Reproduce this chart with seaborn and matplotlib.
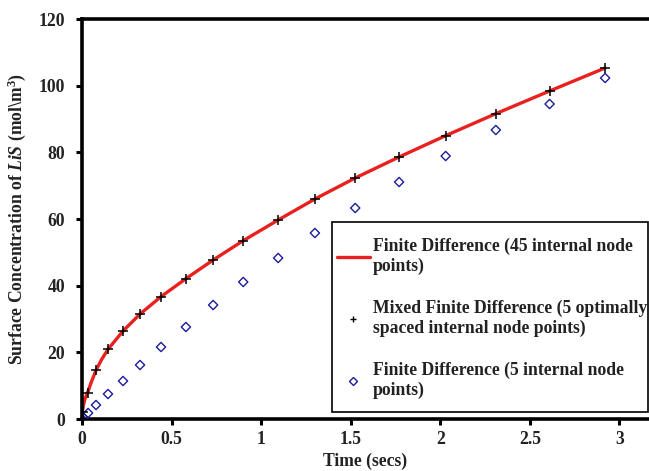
import numpy as np
import pandas as pd
import matplotlib
matplotlib.use("Agg")
import matplotlib.pyplot as plt
from matplotlib.lines import Line2D
from matplotlib.patches import Rectangle
import seaborn as sns

# Finite difference solution with 45 internal nodes (smooth curve)
fd45_time = [0.0, 0.002, 0.008, 0.016, 0.028, 0.034, 0.05, 0.078, 0.11, 0.145, 0.229,
             0.324, 0.441, 0.58, 0.732, 0.9, 1.095, 1.30, 1.525, 1.77, 2.03,
             2.31, 2.61, 2.92]
fd45_conc = [0.0, 2.2, 4.2, 5.9, 7.6, 8.3, 10.8, 14.6, 17.9, 20.9, 26.4,
             31.5, 36.7, 42.1, 47.7, 53.5, 59.7, 66.0, 72.3, 78.6, 85.0,
             91.6, 98.4, 105.3]

# Mixed finite difference, 5 optimally spaced internal nodes
mfd_time = [0.0, 0.006, 0.034, 0.078, 0.145, 0.229, 0.324, 0.441, 0.58, 0.732,
            0.9, 1.095, 1.30, 1.525, 1.77, 2.03, 2.31, 2.61, 2.92]
mfd_conc = [0.0, 2.1, 7.8, 14.7, 21.0, 26.4, 31.5, 36.6, 42.0, 47.7,
            53.4, 59.7, 66.0, 72.3, 78.6, 84.9, 91.5, 98.4, 105.3]

# Finite difference, 5 internal nodes
fd5_time = [0.0, 0.006, 0.034, 0.078, 0.145, 0.229, 0.324, 0.441, 0.58, 0.732,
            0.9, 1.095, 1.30, 1.525, 1.77, 2.03, 2.31, 2.61, 2.92]
fd5_conc = [0.0, 0.5, 1.8, 4.2, 7.5, 11.4, 16.2, 21.6, 27.6, 34.2,
            41.1, 48.3, 55.8, 63.3, 71.1, 78.9, 86.7, 94.5, 102.3]

x_ticks = [0, 0.5, 1, 1.5, 2, 2.5, 3]
x_tick_labels = ["0", "0.5", "1", "1.5", "2", "2.5", "3"]
y_ticks = [0, 20, 40, 60, 80, 100, 120]

labels = ["Finite Difference (45 internal node\npoints)",
          "Mixed Finite Difference (5 optimally\nspaced internal node points)",
          "Finite Difference (5 internal node\npoints)"]

sns.set_style("white")
plt.rcParams["font.family"] = ["Liberation Serif", "DejaVu Serif"]
plt.rcParams["font.weight"] = "bold"
plt.rcParams["mathtext.fontset"] = "custom"
plt.rcParams["mathtext.rm"] = "Liberation Serif:bold"
plt.rcParams["mathtext.it"] = "Liberation Serif:bold:italic"
plt.rcParams["mathtext.bf"] = "Liberation Serif:bold"

red = "#e8211f"
blue = "#1c1c9a"
text_color = "#222222"
fs = 12.7
W, H = 649, 471

fig = plt.figure(figsize=(W / 100, H / 100), dpi=100)
ax = fig.add_axes([82 / W, 1 - 419 / H, 1 - 82 / W, (419 - 19) / H])

line_df = pd.DataFrame({"t": fd45_time, "c": fd45_conc})
mfd_df = pd.DataFrame({"t": mfd_time, "c": mfd_conc})
fd5_df = pd.DataFrame({"t": fd5_time, "c": fd5_conc})

sns.lineplot(data=line_df, x="t", y="c", ax=ax, color=red, linewidth=2.4,
             estimator=None, sort=False, zorder=2)
sns.scatterplot(data=fd5_df, x="t", y="c", ax=ax, marker="D", s=22,
                facecolor="none", edgecolor=blue, linewidth=1.0, zorder=3)
sns.scatterplot(data=mfd_df, x="t", y="c", ax=ax, marker="+", s=45,
                color="black", linewidth=1.1, zorder=4)
for coll in ax.collections[:1]:
    coll.set_facecolor("none")
    coll.set_edgecolor(blue)

ax.set_xlim(0, 3.165)
ax.set_ylim(0, 120)
ax.set_xticks(x_ticks)
ax.set_xticklabels(x_tick_labels)
ax.set_yticks(y_ticks)

for side in ["left", "bottom", "top"]:
    ax.spines[side].set_visible(True)
    ax.spines[side].set_linewidth(2.6)
    ax.spines[side].set_color("black")
ax.spines["right"].set_visible(False)

ax.tick_params(axis="both", which="major", direction="out", length=4, width=2.2,
               labelsize=fs, colors="black")
ax.tick_params(axis="x", pad=5)
ax.tick_params(axis="y", pad=8)
ax.tick_params(top=False, right=False, bottom=True, left=True)
for lab in ax.get_xticklabels() + ax.get_yticklabels():
    lab.set_fontweight("bold")
    lab.set_color(text_color)

ax.set_xlabel("Time (secs)", fontsize=fs, fontweight="bold", color=text_color,
              labelpad=3)
ax.set_ylabel(r"Surface Concentration of $\mathit{LiS}$ (mol\m$^{3}$)",
              fontsize=fs, fontweight="bold", color=text_color, labelpad=8)

# Legend box drawn as a separate frame so the text can run close to its right edge
frame = Rectangle((332 / W, 1 - 412 / H), (648 - 332) / W, (412 - 222) / H,
                  transform=fig.transFigure, facecolor="white", edgecolor="black",
                  linewidth=1.2, zorder=3)
fig.patches.append(frame)

handles = [
    Line2D([], [], color=red, linewidth=2.4),
    Line2D([], [], color="black", marker="+", linestyle="none", markersize=5,
           markeredgewidth=1.0),
    Line2D([], [], color=blue, marker="D", linestyle="none", markersize=4,
           markerfacecolor="none", markeredgewidth=1.0),
]
leg = fig.legend(handles, labels, loc="upper left",
                 bbox_to_anchor=(337 / W, 1 - 238 / H),
                 frameon=False,
                 prop={"family": "Liberation Serif", "weight": "bold", "size": fs},
                 labelspacing=1.4, handlelength=1.87, handletextpad=0.17,
                 borderpad=0, borderaxespad=0)
leg.set_zorder(5)
for t in leg.get_texts():
    t.set_color(text_color)

fig.savefig("out.png", dpi=100)
